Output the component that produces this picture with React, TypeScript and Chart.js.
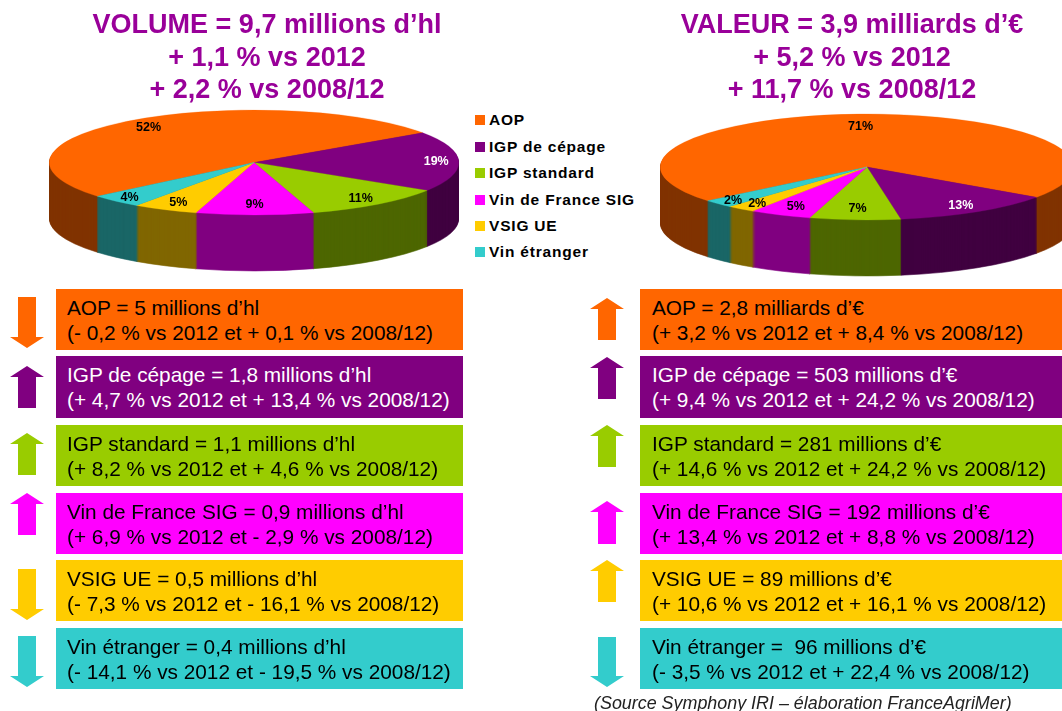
import React, { useEffect, useRef } from "react";
import { Chart, registerables } from "chart.js";

Chart.register(...registerables);

const FONT = '"Liberation Sans", Arial, sans-serif';

const categories = ["AOP", "IGP de cépage", "IGP standard", "Vin de France SIG", "VSIG UE", "Vin étranger"];
const sliceColors = ["#FF6600", "#800080", "#99CC00", "#FF00FF", "#FFCC00", "#33CCCC"];
const sideColors = ["#803300", "#400040", "#4D6600", "#800080", "#806600", "#1A6666"];
const labelColors = ["#000", "#fff", "#000", "#000", "#000", "#000"];

// millions d'hl
const volumeValues = [5, 1.8, 1.1, 0.9, 0.5, 0.4];
// millions d'euros
const valueValues = [2800, 503, 281, 192, 89, 96];
const volumeReach = [0.85, 0.89, 0.86, 0.8, 0.85, 0.9];
const valueReach = [0.76, 0.85, 0.78, 0.82, 0.87, 0.9];

const volumeTitle = ["VOLUME = 9,7 millions d’hl", "+ 1,1 % vs 2012", "+ 2,2 % vs 2008/12"];
const valueTitle = ["VALEUR = 3,9 milliards d’€", "+ 5,2 % vs 2012", "+ 11,7 % vs 2008/12"];

const volumeHead = [
  "AOP = 5 millions d’hl",
  "IGP de cépage = 1,8 millions d’hl",
  "IGP standard = 1,1 millions d’hl",
  "Vin de France SIG = 0,9 millions d’hl",
  "VSIG UE = 0,5 millions d’hl",
  "Vin étranger = 0,4 millions d’hl",
];
const volumeDetail = [
  "(- 0,2 % vs 2012 et + 0,1 % vs 2008/12)",
  "(+ 4,7 % vs 2012 et + 13,4 % vs 2008/12)",
  "(+ 8,2 % vs 2012 et + 4,6 % vs 2008/12)",
  "(+ 6,9 % vs 2012 et - 2,9 % vs 2008/12)",
  "(- 7,3 % vs 2012 et - 16,1 % vs 2008/12)",
  "(- 14,1 % vs 2012 et - 19,5 % vs 2008/12)",
];
const valueHead = [
  "AOP = 2,8 milliards d’€",
  "IGP de cépage = 503 millions d’€",
  "IGP standard = 281 millions d’€",
  "Vin de France SIG = 192 millions d’€",
  "VSIG UE = 89 millions d’€",
  "Vin étranger =  96 millions d’€",
];
const valueDetail = [
  "(+ 3,2 % vs 2012 et + 8,4 % vs 2008/12)",
  "(+ 9,4 % vs 2012 et + 24,2 % vs 2008/12)",
  "(+ 14,6 % vs 2012 et + 24,2 % vs 2008/12)",
  "(+ 13,4 % vs 2012 et + 8,8 % vs 2008/12)",
  "(+ 10,6 % vs 2012 et + 16,1 % vs 2008/12)",
  "(- 3,5 % vs 2012 et + 22,4 % vs 2008/12)",
];
const sourceNote = "(Source Symphony IRI – élaboration FranceAgriMer)";

const rowTops = [289, 356, 425, 493, 560, 628];
const rowBottoms = [350, 418, 486, 554, 621, 689];
const legendCenters = [120, 146.5, 173, 200, 226, 252];

const volumeArrows: [number, number, boolean][] = [
  [297, 348, false], [366, 408, true], [433, 475, true], [493, 535, true], [569, 620, false], [636, 687, false],
];
const valueArrows: [number, number, boolean][] = [
  [298, 340, true], [357, 399, true], [425, 467, true], [501, 544, true], [560, 602, true], [637, 687, false],
];

function Pie3D(props: { values: number[]; reach: number[]; rotation: number; left: number; rx: number; ry: number; centerY: number; depth: number }) {
  const ref = useRef<HTMLCanvasElement>(null);
  const { values, reach, rotation, left, rx, ry, centerY, depth } = props;
  useEffect(() => {
    const k = ry / rx;
    const total = values.reduce((a, b) => a + b, 0);
    const squash = {
      id: "squash3d",
      beforeDatasetsDraw(chart: any) {
        const ctx = chart.ctx;
        const arcs = chart.getDatasetMeta(0).data;
        const cx = arcs[0].x;
        const cy = arcs[0].y;
        ctx.save();
        ctx.translate(cx, centerY);
        ctx.scale(1, k);
        ctx.translate(-cx, -cy);
        for (let d = depth; d >= 1; d--) {
          ctx.save();
          ctx.translate(0, d / k);
          arcs.forEach((arc: any, i: number) => {
            const saved = arc.options;
            arc.options = { ...saved, backgroundColor: sideColors[i], borderColor: sideColors[i], borderWidth: 1 };
            arc.draw(ctx);
            arc.options = saved;
          });
          ctx.restore();
        }
      },
      afterDatasetsDraw(chart: any) {
        const ctx = chart.ctx;
        ctx.restore();
        const arcs = chart.getDatasetMeta(0).data;
        ctx.save();
        ctx.font = `bold 12.5px ${FONT}`;
        ctx.textAlign = "center";
        ctx.textBaseline = "middle";
        arcs.forEach((arc: any, i: number) => {
          const mid = (arc.startAngle + arc.endAngle) / 2;
          const r = arc.outerRadius * reach[i];
          ctx.fillStyle = labelColors[i];
          ctx.fillText(`${Math.round((values[i] / total) * 100)}%`, arc.x + Math.cos(mid) * r, centerY + Math.sin(mid) * r * k);
        });
        ctx.restore();
      },
    };
    const chart = new Chart(ref.current as HTMLCanvasElement, {
      type: "pie",
      data: {
        labels: categories,
        datasets: [{ data: values, backgroundColor: sliceColors, borderColor: sliceColors, borderWidth: 0.5, clip: false } as any],
      },
      options: {
        responsive: false,
        animation: false,
        events: [],
        rotation,
        layout: { padding: 0 },
        plugins: { legend: { display: false }, tooltip: { enabled: false } },
      },
      plugins: [squash],
    } as any);
    return () => chart.destroy();
  }, []);
  return (
    <canvas
      ref={ref}
      width={rx * 2}
      height={rx * 2}
      style={{ position: "absolute", left, top: 0, width: rx * 2, height: rx * 2 }}
    />
  );
}

function Title({ lines, center }: { lines: string[]; center: number }) {
  return (
    <>
      {lines.map((t, i) => (
        <div
          key={i}
          style={{
            position: "absolute", left: center - 260, width: 520, top: 8 + i * 32.5, height: 32, lineHeight: "32px",
            textAlign: "center", fontFamily: FONT, fontWeight: "bold", fontSize: 27, color: "#990099", whiteSpace: "pre",
          }}
        >
          {t}
        </div>
      ))}
    </>
  );
}

function Arrow({ x, top, bottom, up, color }: { x: number; top: number; bottom: number; up: boolean; color: string }) {
  const w = 34, h = bottom - top, head = 11, s1 = 8, s2 = 26;
  const pts = up
    ? `${w / 2},0 ${w},${head} ${s2},${head} ${s2},${h} ${s1},${h} ${s1},${head} 0,${head}`
    : `${s1},0 ${s2},0 ${s2},${h - head} ${w},${h - head} ${w / 2},${h} 0,${h - head} ${s1},${h - head}`;
  return (
    <svg width={w} height={h} style={{ position: "absolute", left: x, top }}>
      <polygon points={pts} fill={color} />
    </svg>
  );
}

function Rows(props: { heads: string[]; details: string[]; arrows: [number, number, boolean][]; boxLeft: number; boxRight: number; arrowX: number; inset: number }) {
  const { heads, details, arrows, boxLeft, boxRight, arrowX, inset } = props;
  return (
    <>
      {heads.map((head, i) => {
        const ink = i === 1 ? "#fff" : "#000";
        const line = (t: string, y: number) => (
          <div
            style={{
              position: "absolute", left: inset, top: y, height: 24, lineHeight: "24px", fontFamily: FONT, fontSize: 20.8, color: ink, whiteSpace: "pre",
            }}
          >
            {t}
          </div>
        );
        return (
          <React.Fragment key={i}>
            <Arrow x={arrowX} top={arrows[i][0]} bottom={arrows[i][1]} up={arrows[i][2]} color={sliceColors[i]} />
            <div
              style={{
                position: "absolute", left: boxLeft, top: rowTops[i], width: boxRight - boxLeft, height: rowBottoms[i] - rowTops[i], background: sliceColors[i],
              }}
            >
              {line(head, 7)}
              {line(details[i], 32)}
            </div>
          </React.Fragment>
        );
      })}
    </>
  );
}

export default function App() {
  return (
    <div style={{ position: "fixed", left: 0, top: 0, width: 1062, height: 711, overflow: "hidden", background: "#fff" }}>
      <Pie3D values={volumeValues} reach={volumeReach} rotation={-130.1} left={49} rx={205} ry={52.5} centerY={162.5} depth={56} />
      <Pie3D values={valueValues} reach={valueReach} rotation={-129.6} left={660} rx={207} ry={53} centerY={167} depth={56} />
      <Title lines={volumeTitle} center={267} />
      <Title lines={valueTitle} center={852} />
      {categories.map((c, i) => (
        <React.Fragment key={c}>
          <div style={{ position: "absolute", left: 475, top: legendCenters[i] - 5, width: 10, height: 10, background: sliceColors[i] }} />
          <div
            style={{
              position: "absolute", left: 489, top: legendCenters[i] - 10, height: 20, lineHeight: "20px", fontFamily: FONT, fontWeight: "bold", fontSize: 15.5, color: "#000", whiteSpace: "pre", letterSpacing: 0.8,
            }}
          >
            {c}
          </div>
        </React.Fragment>
      ))}
      <Rows heads={volumeHead} details={volumeDetail} arrows={volumeArrows} boxLeft={56} boxRight={463} arrowX={9.5} inset={11} />
      <Rows heads={valueHead} details={valueDetail} arrows={valueArrows} boxLeft={640} boxRight={1062} arrowX={590} inset={12} />
      <div
        style={{
          position: "absolute", left: 594, top: 692, height: 22, lineHeight: "22px", fontFamily: FONT, fontStyle: "italic", fontSize: 17.9, color: "#222", whiteSpace: "pre",
        }}
      >
        {sourceNote}
      </div>
    </div>
  );
}
